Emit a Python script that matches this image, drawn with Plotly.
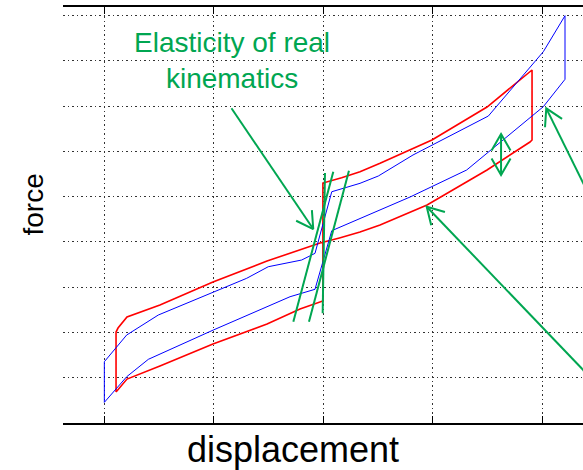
import math
import plotly.graph_objects as go

# ---------------- layout constants ----------------
W, H = 583, 470
ML, MR, MT, MB = 63, 0, 7, 47
X_RANGE = [-0.3744, 4.3744]
Y_RANGE = [-1.0, 8.192]
X_TICKS = [0, 1, 2, 3, 4]
Y_TICKS = [0, 1, 2, 3, 4, 5, 6, 7, 8]

GREEN = "#00a651"
FONT = "Liberation Sans, Arial, Helvetica, sans-serif"

# ---------------- data ----------------
# red hysteresis loop (model)
red_x = [0.110, 0.210, 0.511, 0.995, 1.489, 1.790, 1.999,
         1.999, 2.170, 2.338, 2.521, 2.995, 3.498, 3.909,
         3.909, 3.890, 3.498, 2.950, 2.521, 2.338, 2.150, 1.973, 1.489, 0.995, 0.511, 0.210, 0.128, 0.110, 0.110]
red_y = [-0.316, -0.029, 0.259, 0.745, 1.187, 1.518, 1.695,
         4.303, 4.420, 4.552, 4.738, 5.253, 5.982, 6.800,
         5.253, 5.209, 4.590, 3.817, 3.375, 3.220, 3.090, 2.977, 2.579, 2.115, 1.607, 1.341, 1.098, 1.010, -0.316]

# blue hysteresis loop (measurement)
blue_x = [0.003, 0.207, 0.405, 0.998, 1.699, 1.927, 2.080, 2.292, 2.795, 3.312, 4.012, 4.210,
          4.210, 4.012, 3.510, 2.822, 2.505, 2.338, 2.080, 1.927, 1.805, 1.500, 1.303, 0.496, 0.207, 0.003, 0.003]
blue_y = [-0.544, 0.022, 0.407, 1.054, 1.790, 1.954, 3.249, 3.474, 3.993, 4.590, 5.989, 6.594,
          8.000, 7.204, 5.783, 4.922, 4.457, 4.296, 4.110, 2.749, 2.601, 2.453, 2.197, 1.386, 0.944, 0.354, -0.544]

# green steep lines (elasticity of real kinematics)
elastic_lines = [
    ([2.094, 1.729], [4.552, 1.238]),
    ([2.237, 1.872], [4.575, 1.238]),
    ([2.018, 1.997], [4.524, 1.423]),
]

# green arrows: (tail_x, tail_y, tip_x, tip_y, double_headed)
arrows = [
    (1.164, 5.954, 1.911, 3.286, False),
    (4.438, 0.015, 2.947, 3.779, False),
    (4.438, 3.996, 4.039, 5.953, False),
    (3.626, 4.480, 3.626, 5.386, True),
]

annot_text = "Elasticity of real<br>kinematics"
x_title = "displacement"
y_title = "force"

# ---------------- build figure ----------------
sx = (W - ML - MR) / (X_RANGE[1] - X_RANGE[0])
sy = (H - MT - MB) / (Y_RANGE[1] - Y_RANGE[0])


def head(tail_x, tail_y, tip_x, tip_y, length=19, ang=30):
    dx = (tail_x - tip_x) * sx
    dy = -(tail_y - tip_y) * sy
    n = math.hypot(dx, dy)
    ux, uy = dx / n, dy / n
    pts = []
    for a in (ang, -ang):
        r = math.radians(a)
        wx = ux * math.cos(r) - uy * math.sin(r)
        wy = ux * math.sin(r) + uy * math.cos(r)
        pts.append((tip_x + wx * length / sx, tip_y - wy * length / sy))
    return pts


gx, gy = [], []
for xs, ys in elastic_lines:
    gx += xs + [None]
    gy += ys + [None]
for tx, ty, hx, hy, dbl in arrows:
    gx += [tx, hx, None]
    gy += [ty, hy, None]
    ends = [(tx, ty, hx, hy)]
    if dbl:
        ends.append((hx, hy, tx, ty))
    for a, b, c, d in ends:
        w1, w2 = head(a, b, c, d)
        gx += [w1[0], c, w2[0], None]
        gy += [w1[1], d, w2[1], None]

fig = go.Figure()
fig.add_trace(go.Scatter(x=red_x, y=red_y, mode="lines",
                         line=dict(color="#ff0000", width=1.6), hoverinfo="skip"))
fig.add_trace(go.Scatter(x=blue_x, y=blue_y, mode="lines",
                         line=dict(color="#0000ff", width=1), hoverinfo="skip"))
fig.add_trace(go.Scatter(x=gx, y=gy, mode="lines",
                         line=dict(color=GREEN, width=2), hoverinfo="skip"))

fig.update_layout(
    width=W, height=H,
    margin=dict(l=ML, r=MR, t=MT, b=MB, pad=0),
    paper_bgcolor="white", plot_bgcolor="white",
    showlegend=False,
    font=dict(family=FONT, color="black"),
    xaxis=dict(range=X_RANGE, tickvals=X_TICKS, showticklabels=False,
               ticks="inside", ticklen=7, tickcolor="black", tickwidth=1,
               showline=True, linecolor="black", linewidth=1.5, mirror="ticks",
               showgrid=True, gridcolor="#333333", gridwidth=1, griddash="1.5px,3px",
               zeroline=False, fixedrange=True),
    yaxis=dict(range=Y_RANGE, tickvals=Y_TICKS, showticklabels=False,
               ticks="", showline=False,
               showgrid=True, gridcolor="#333333", gridwidth=1, griddash="1.5px,3px",
               zeroline=False, fixedrange=True),
    annotations=[
        dict(text=annot_text, xref="paper", yref="paper",
             x=(232 - ML) / (W - ML - MR), y=(H - MB - 60) / (H - MT - MB),
             xanchor="center", yanchor="middle", showarrow=False,
             font=dict(size=28, color=GREEN, family=FONT), align="center"),
        dict(text=x_title, xref="paper", yref="paper",
             x=(293 - ML) / (W - ML - MR), y=(H - MB - 449) / (H - MT - MB),
             xanchor="center", yanchor="middle", showarrow=False,
             font=dict(size=36, color="black", family=FONT)),
        dict(text=y_title, xref="paper", yref="paper",
             x=(33 - ML) / (W - ML - MR), y=(H - MB - 204.5) / (H - MT - MB),
             xanchor="center", yanchor="middle", showarrow=False, textangle=-90,
             font=dict(size=28, color="black", family=FONT)),
    ],
)

fig.write_html("out.html")
